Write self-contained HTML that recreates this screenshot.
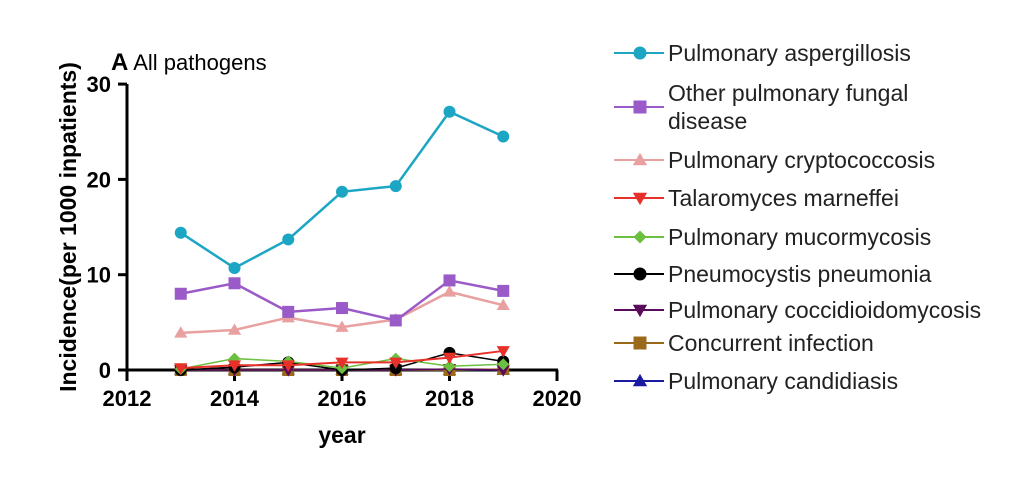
<!DOCTYPE html>
<html><head><meta charset="utf-8"><style>
body{margin:0;background:#fff;width:1024px;height:485px;overflow:hidden;font-family:"Liberation Sans",Arial,sans-serif}
</style></head><body>
<svg id="c" width="1024" height="485"></svg>
<script>
const years=[2013,2014,2015,2016,2017,2018,2019];
const names=["Pulmonary aspergillosis","Other pulmonary fungal disease","Pulmonary cryptococcosis","Talaromyces marneffei","Pulmonary mucormycosis","Pneumocystis pneumonia","Pulmonary coccidioidomycosis","Concurrent infection","Pulmonary candidiasis"];
const aspergillosis=[14.4,10.7,13.7,18.7,19.3,27.1,24.5];
const otherFungal=[8.0,9.1,6.1,6.5,5.2,9.4,8.3];
const cryptococcosis=[3.9,4.2,5.5,4.5,5.3,8.2,6.8];
const talaromyces=[0.2,0.5,0.5,0.8,0.8,1.3,2.0];
const mucormycosis=[0.1,1.2,0.9,0.2,1.2,0.4,0.6];
const pneumocystis=[0,0.3,0.8,0,0.2,1.8,0.9];
const coccidioido=[0,0,0,0,0,0.1,0];
const concurrent=[0,0,0,0,0,0,0.1];
const candidiasis=[0,0,0,0,0,0,0];
const xTicks=[2012,2014,2016,2018,2020];
const yTicks=[0,10,20,30];
const series=[candidiasis,concurrent,coccidioido,pneumocystis,mucormycosis,talaromyces,cryptococcosis,otherFungal,aspergillosis];
const colors=["#1a1aa0","#9a6a1a","#5a0a5a","#000000","#6cc040","#e8302a","#e8a0a0","#9a5ac8","#1ca6c4"];
const shapes=["tri","square","tridown","circle","diamond","tridown","tri","square","circle"];
const sw=[1.5,1.5,1.5,1.5,1.5,2,2.5,2.5,2.5];
const NS="http://www.w3.org/2000/svg";const svg=document.getElementById('c');
const X=v=>127+(v-2012)*53.75, Y=v=>370-v*9.53;
function el(t,a,p){const e=document.createElementNS(NS,t);for(const k in a)e.setAttribute(k,a[k]);(p||svg).appendChild(e);return e;}
function marker(s,x,y,c,r,p){let e;
 if(s=="circle")e=el('circle',{cx:x,cy:y,r:r},p);
 else if(s=="square")e=el('rect',{x:x-r,y:y-r,width:2*r,height:2*r},p);
 else if(s=="tri")e=el('polygon',{points:`${x},${y-r*1.1} ${x-r*1.1},${y+r*.8} ${x+r*1.1},${y+r*.8}`},p);
 else if(s=="tridown")e=el('polygon',{points:`${x},${y+r*1.1} ${x-r*1.1},${y-r*.8} ${x+r*1.1},${y-r*.8}`},p);
 else e=el('polygon',{points:`${x},${y-r} ${x+r},${y} ${x},${y+r} ${x-r},${y}`},p);
 e.setAttribute('fill',c);return e;}
const ax=el('g',{});
el('line',{x1:127,y1:84,x2:127,y2:371,stroke:'#000','stroke-width':3},ax);
el('line',{x1:126,y1:370,x2:558,y2:370,stroke:'#000','stroke-width':3},ax);
yTicks.forEach(t=>{el('line',{x1:118,y1:Y(t),x2:127,y2:Y(t),stroke:'#000','stroke-width':3},ax);
 const tx=el('text',{x:111,y:Y(t)+8,'text-anchor':'end','font-size':22,'font-weight':'bold'},ax);tx.textContent=t;
 });
xTicks.forEach(t=>{el('line',{x1:X(t),y1:370,x2:X(t),y2:381,stroke:'#000','stroke-width':3},ax);
 const tx=el('text',{x:X(t),y:406,'text-anchor':'middle','font-size':22,'font-weight':'bold'},ax);tx.textContent=t;
 });
const xt=el('text',{x:342,y:443,'text-anchor':'middle','font-size':23,'font-weight':'bold'});xt.textContent='year';

const yt=el('text',{x:0,y:0,'text-anchor':'middle','font-size':23,'font-weight':'bold',transform:'translate(76,227) rotate(-90)'});yt.textContent='Incidence(per 1000 inpatients)';

const tt=el('text',{x:111,y:70,'font-size':22});tt.innerHTML='<tspan font-weight="bold" font-size="24">A</tspan> All pathogens';

series.forEach((d,i)=>{const g=el('g',{});
 el('polyline',{points:d.map((v,j)=>X(years[j])+','+Y(v)).join(' '),fill:'none',stroke:colors[i],'stroke-width':sw[i]},g);
 d.forEach((v,j)=>{const m=marker(shapes[i],X(years[j]),Y(v),colors[i],6,g);});});
const ly=[53,null,160,198,237,274,310,343,381];
const lg=el('g',{});
for(let k=0;k<9;k++){const i=8-k;const g=el('g',{},lg);
 const y=k==1?107:ly[k];
 el('line',{x1:614,y1:y,x2:664,y2:y,stroke:colors[i],'stroke-width':2},g);
 marker(shapes[i],640,y,colors[i],6.5,g);
 const t=el('text',{x:668,y:y+8,'font-size':23,fill:'#222'},g);
 if(k==1){t.innerHTML='<tspan x="668" y="101">Other pulmonary fungal</tspan><tspan x="668" y="129">disease</tspan>';}
 else t.textContent=names[k];}
</script>
</body></html>
